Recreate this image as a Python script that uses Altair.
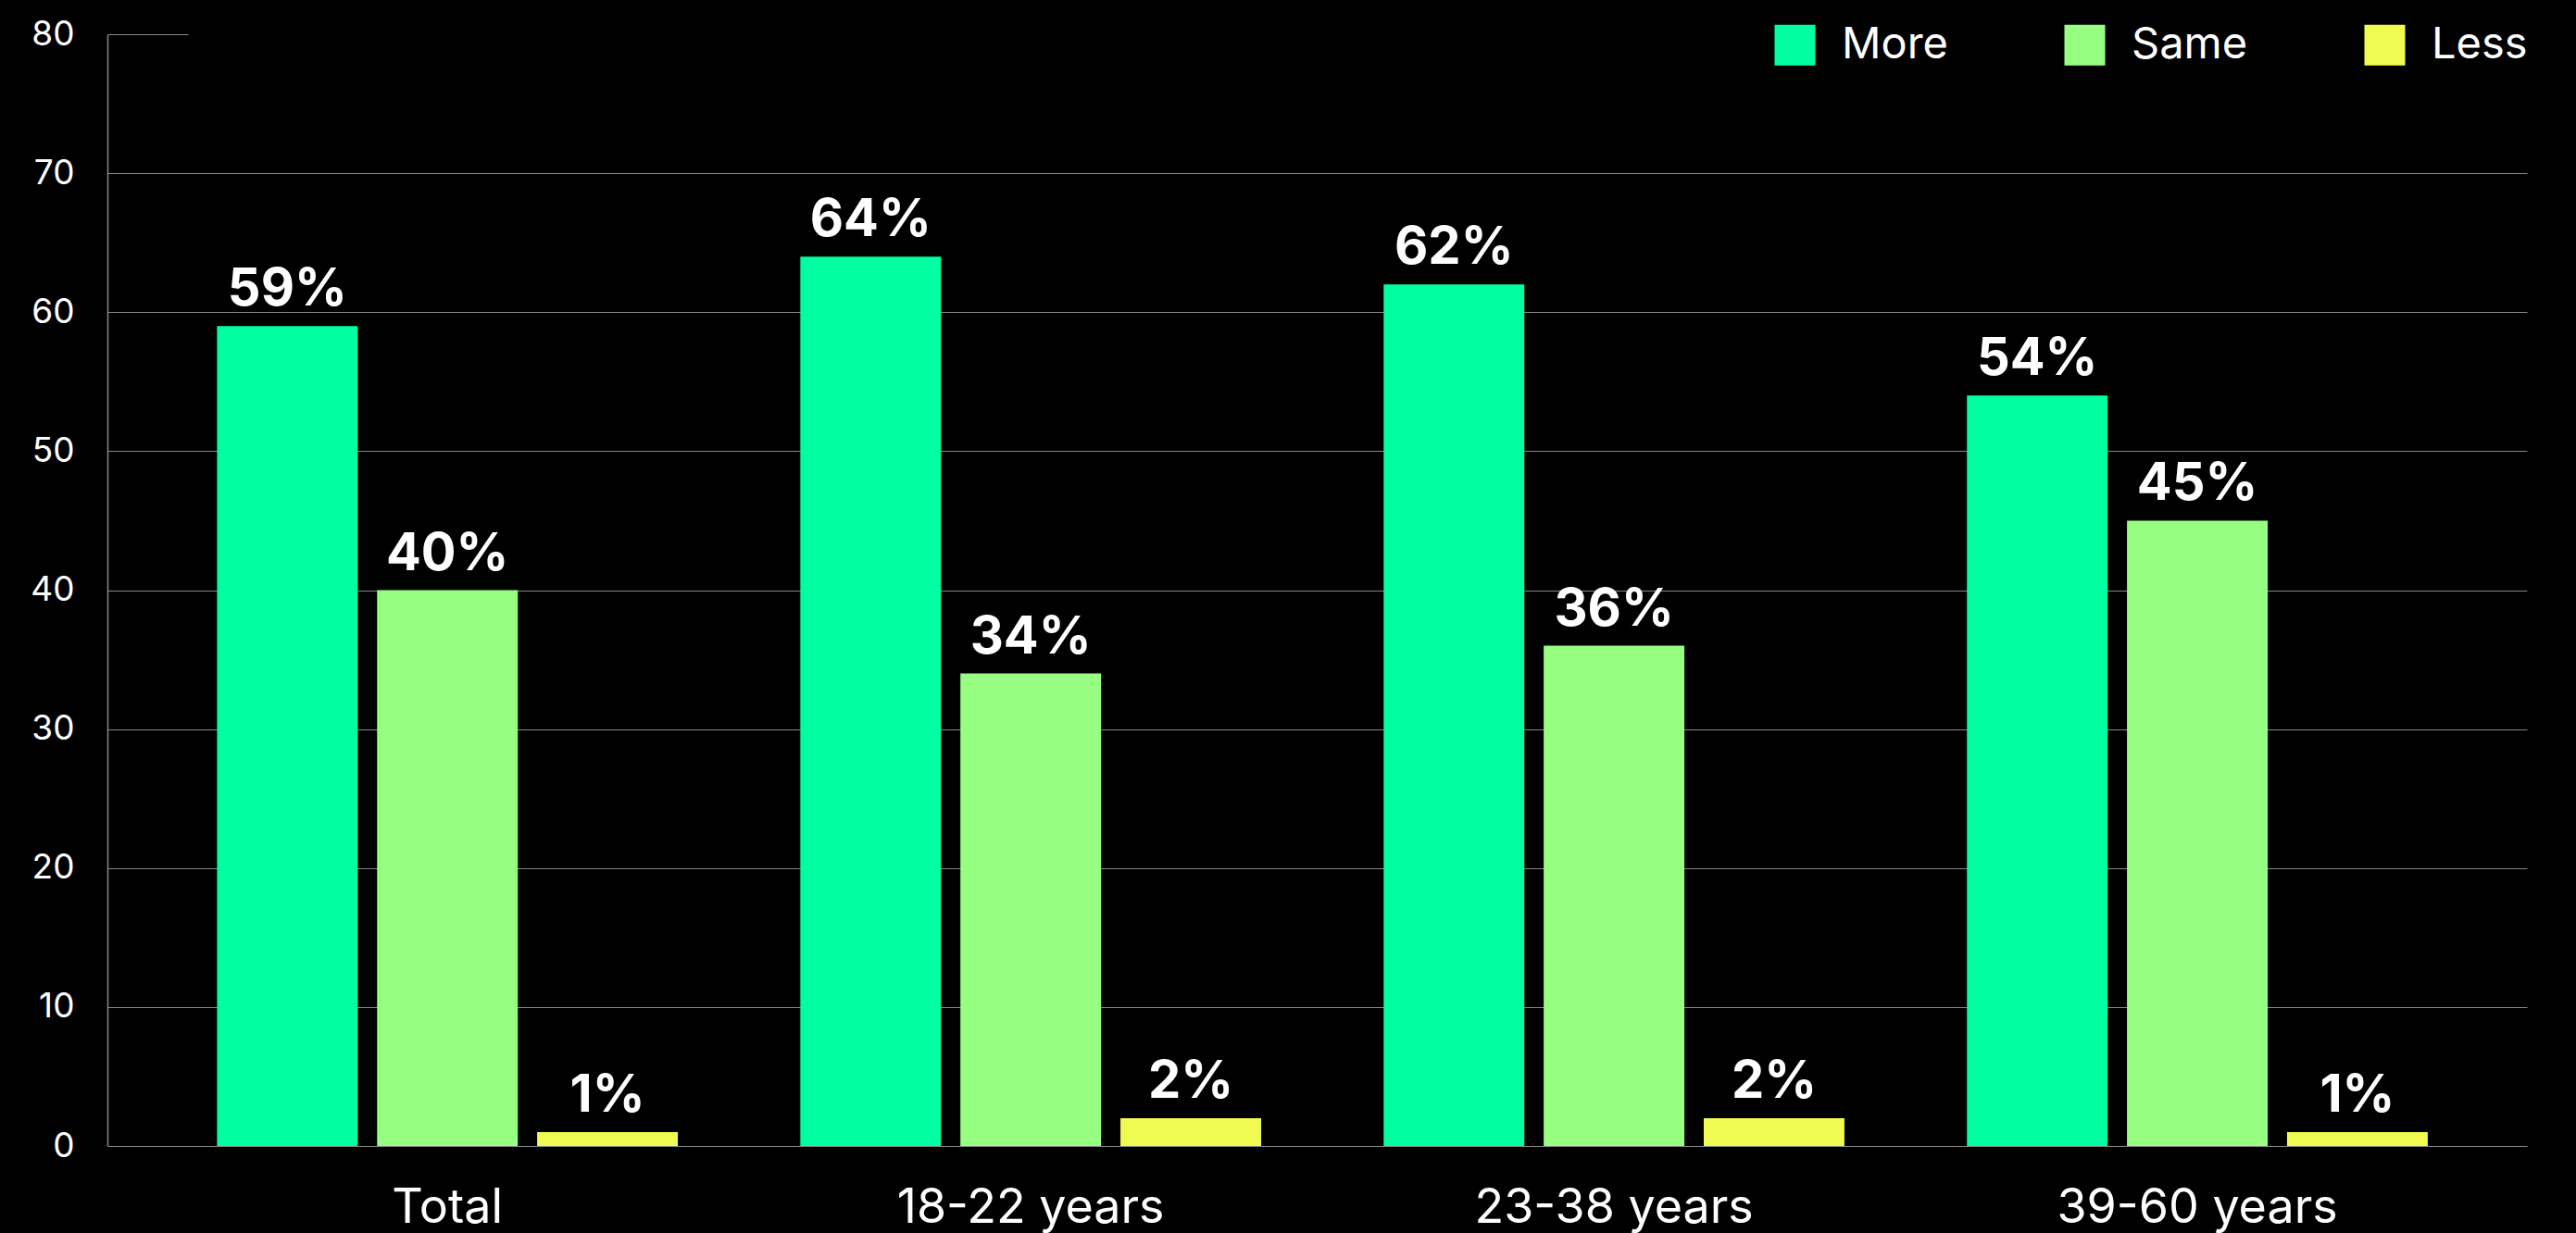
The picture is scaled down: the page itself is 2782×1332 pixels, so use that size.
import altair as alt
import pandas as pd

groups = ["Total", "18-22 years", "23-38 years", "39-60 years"]
series = ["More", "Same", "Less"]
more = [59, 64, 62, 54]
same = [40, 34, 36, 45]
less = [1, 2, 2, 1]
colors = ["#00FFA0", "#96FF82", "#EFFB50"]
y_ticks = [0, 10, 20, 30, 40, 50, 60, 70, 80]

rows = []
for i, g in enumerate(groups):
    for s, vals in zip(series, [more, same, less]):
        rows.append({"group": g, "series": s, "value": vals[i], "label": f"{vals[i]}%"})
df = pd.DataFrame(rows)

FONT = "Inter"

xscale = alt.Scale(paddingInner=0.21, paddingOuter=0.179, align=0.525)
xoffscale = alt.Scale(paddingInner=0.121, paddingOuter=0)

x = alt.X("group:N", sort=groups, scale=xscale,
          axis=alt.Axis(title=None, labelAngle=0, domain=False, ticks=False,
                        labelFontSize=52, labelColor="white", labelFont=FONT,
                        labelPadding=41, labelLimit=0))
xoff = alt.XOffset("series:N", sort=series, scale=xoffscale)
y = alt.Y("value:Q", scale=alt.Scale(domain=[0, 80], nice=False),
          axis=alt.Axis(title=None, values=y_ticks, ticks=False,
                        domain=True, domainColor="#888888", domainWidth=1.5,
                        grid=True, gridColor="#888888", gridWidth=1.2,
                        gridDash={"condition": {"test": "datum.value === 80", "value": [87, 5000]}, "value": []},
                        labelFontSize=37, labelColor="white", labelFont=FONT,
                        labelPadding=36))

color = alt.Color("series:N", sort=series,
                  scale=alt.Scale(domain=series, range=colors),
                  legend=alt.Legend(title=None, orient="none", direction="horizontal",
                                    legendX=1799, legendY=-12, symbolType="square",
                                    symbolSize=1936, symbolStrokeWidth=0, symbolOpacity=1,
                                    labelFontSize=47, labelColor="white", labelFont=FONT,
                                    labelOffset=27, columnPadding=124, padding=0))

bars = alt.Chart(df).mark_bar().encode(x=x, xOffset=xoff, y=y, color=color)

text = alt.Chart(df).mark_text(color="white", font=FONT, fontSize=56, fontWeight="bold",
                               baseline="alphabetic", dy=-22).encode(
    x=alt.X("group:N", sort=groups, scale=xscale),
    xOffset=alt.XOffset("series:N", sort=series, scale=xoffscale),
    y="value:Q", text="label:N")

chart = alt.layer(bars, text).properties(
    width=2613, height=1201,
    autosize=alt.AutoSizeParams(type="none"),
    padding={"left": 116, "top": 37, "right": 53, "bottom": 94},
    background="black",
).configure_view(stroke=None)

chart.save("out.html", embed_options={"renderer": "svg", "actions": False})
